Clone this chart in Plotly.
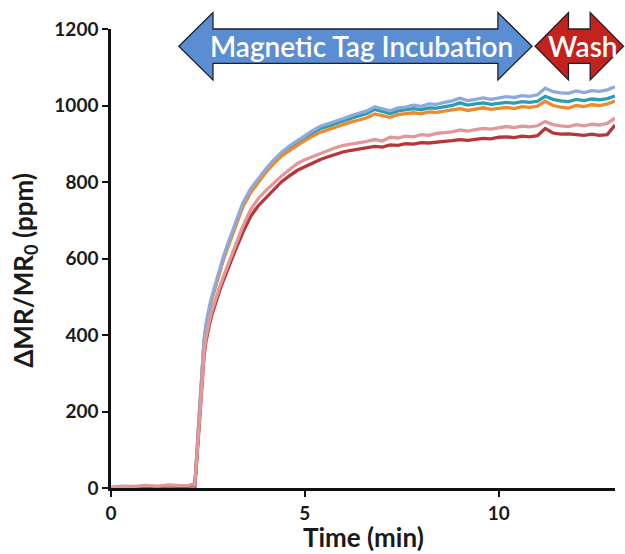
import plotly.graph_objects as go

# Sampling times (min)
time_min = [
    0.0, 0.3, 0.6, 0.9, 1.2, 1.5, 1.8, 2.0, 2.1, 2.16,
    2.2, 2.25, 2.3, 2.35, 2.4, 2.45, 2.5, 2.55, 2.6, 2.7, 2.8, 2.9,
    3.0, 3.2, 3.4, 3.6, 3.8, 4.0, 4.2, 4.4, 4.6, 4.8,
    5.0, 5.2, 5.4, 5.6, 5.8, 6.0, 6.2, 6.4, 6.6, 6.8,
    7.0, 7.2, 7.4, 7.6, 7.8, 8.0, 8.2, 8.4, 8.6, 8.8,
    9.0, 9.2, 9.4, 9.6, 9.8, 10.0, 10.2, 10.4, 10.6, 10.8,
    11.0, 11.2, 11.4, 11.6, 11.8, 12.0, 12.2, 12.4, 12.6, 12.8,
    13.0,
]

# dMR/MR0 signal (ppm) for each sensor
sensor_blue = [
    0, -2, 1, 0, -1, 1, 0, 2, 1, 3,
    70, 145, 235, 320, 388, 428, 457, 480, 500, 536, 572, 605,
    635, 690, 745, 782, 810, 835, 858, 878, 894, 908,
    921, 934, 946, 952, 960, 966, 974, 979, 986, 997,
    991, 986, 994, 996, 1001, 998, 1004, 1003, 1008, 1012,
    1019, 1013, 1016, 1020, 1016, 1019, 1023, 1021, 1026, 1024,
    1028, 1045, 1036, 1033, 1032, 1038, 1034, 1039, 1037, 1041,
    1049,
]
sensor_teal = [
    0, -1, 0, 1, 0, -1, 1, 1, 2, 2,
    65, 140, 230, 315, 383, 423, 452, 475, 495, 531, 566, 600,
    628, 684, 738, 776, 804, 830, 853, 874, 890, 903,
    916, 929, 940, 946, 954, 960, 967, 972, 979, 990,
    984, 979, 986, 988, 992, 989, 994, 993, 997, 1000,
    1007, 1001, 1004, 1007, 1003, 1006, 1008, 1006, 1010, 1008,
    1011, 1024, 1016, 1012, 1010, 1016, 1013, 1017, 1015, 1018,
    1025,
]
sensor_orange = [
    0, 1, -1, 0, 1, 0, -1, 1, 2, 2,
    65, 140, 228, 312, 380, 420, 450, 473, 493, 529, 563, 597,
    626, 682, 735, 772, 800, 826, 848, 868, 882, 896,
    908, 920, 930, 937, 944, 950, 957, 962, 968, 978,
    974, 969, 976, 978, 981, 978, 983, 982, 986, 988,
    992, 987, 990, 994, 990, 993, 995, 992, 997, 995,
    998, 1011, 1000, 996, 993, 1000, 997, 1002, 1000, 1004,
    1012,
]
sensor_darkred = [
    0, 3, 2, 5, 3, 6, 4, 5, 8, 6,
    55, 125, 205, 285, 345, 383, 410, 432, 452, 486, 515, 543,
    570, 620, 668, 710, 738, 760, 782, 801, 816, 830,
    840, 850, 859, 866, 873, 879, 883, 886, 889, 893,
    891, 897, 896, 900, 899, 903, 902, 905, 906, 908,
    911, 909, 912, 914, 913, 917, 918, 916, 920, 918,
    921, 940, 928, 925, 926, 924, 922, 925, 922, 924,
    949,
]
sensor_pink = [
    2, 5, 4, 7, 5, 8, 6, 7, 10, 8,
    60, 130, 212, 293, 355, 393, 420, 442, 462, 496, 525, 553,
    580, 632, 684, 727, 757, 778, 798, 816, 832, 848,
    858, 866, 876, 882, 890, 896, 899, 903, 906, 911,
    907, 917, 915, 920, 918, 924, 922, 927, 929, 931,
    936, 933, 937, 940, 938, 941, 945, 942, 946, 944,
    947, 958, 950, 947, 945, 950, 947, 951, 949, 953,
    967,
]

series = [
    ("Sensor 2", sensor_teal, "#2b9db3"),
    ("Sensor 3", sensor_orange, "#ee8a2c"),
    ("Sensor 1", sensor_blue, "#8eaadd"),
    ("Sensor 5", sensor_darkred, "#b8363a"),
    ("Sensor 4", sensor_pink, "#e09898"),
]

X_MAX = 13.0
Y_MAX = 1200.0
FONT = "Lato"

fig = go.Figure()
for name, vals, color in series:
    fig.add_trace(go.Scatter(
        x=time_min, y=vals, mode="lines", name=name,
        line=dict(color=color, width=3.3),
    ))


def to_paper(t, v):
    return t / X_MAX, v / Y_MAX


def double_arrow(t0, t1, head_len, v_mid, body_half, head_half):
    pts = [
        (t0, v_mid),
        (t0 + head_len, v_mid + head_half),
        (t0 + head_len, v_mid + body_half),
        (t1 - head_len, v_mid + body_half),
        (t1 - head_len, v_mid + head_half),
        (t1, v_mid),
        (t1 - head_len, v_mid - head_half),
        (t1 - head_len, v_mid - body_half),
        (t0 + head_len, v_mid - body_half),
        (t0 + head_len, v_mid - head_half),
    ]
    p = [to_paper(t, v) for t, v in pts]
    return "M " + " L ".join(f"{x:.5f},{y:.5f}" for x, y in p) + " Z"


# Phase arrows above the curves: label, start, end, head length, label centre, fill
phases = [
    ("Magnetic Tag Incubation", 1.75, 10.86, 0.88, 6.47, "#5b8dd3"),
    ("Wash", 10.94, 13.22, 0.86, 12.17, "#c4221d"),
]
for label, t0, t1, head, t_text, fill in phases:
    fig.add_shape(
        type="path", xref="paper", yref="paper",
        path=double_arrow(t0, t1, head, 1155, 45, 88),
        fillcolor=fill, line=dict(color="#1f1f2a", width=1.3),
        layer="above",
    )
    xc, yc = to_paper(t_text, 1155)
    fig.add_annotation(
        x=xc, y=yc, xref="paper", yref="paper", text=label,
        showarrow=False, xanchor="center", yanchor="middle",
        font=dict(family=FONT, size=28, color="white", weight=600),
    )

# Axis titles
fig.add_annotation(
    x=-0.171, y=0.475, xref="paper", yref="paper",
    text="ΔMR/MR<sub>0</sub> (ppm)", textangle=-90, showarrow=False,
    xanchor="center", yanchor="middle",
    font=dict(family=FONT, size=26, color="#1a1a1a", weight="bold"),
)
fig.add_annotation(
    x=0.5, y=-0.106, xref="paper", yref="paper",
    text="Time (min)", showarrow=False,
    xanchor="center", yanchor="middle",
    font=dict(family=FONT, size=26, color="#1a1a1a", weight="bold"),
)

axis_common = dict(
    showgrid=False, zeroline=False, showline=True,
    linecolor="#111111", linewidth=2.5,
    ticks="outside", ticklen=6, tickwidth=2.2, tickcolor="#111111",
    tickfont=dict(family=FONT, size=19, color="#1a1a1a", weight="bold"),
)
fig.update_xaxes(range=[0, X_MAX], tickvals=[0, 5, 10], **axis_common)
fig.update_yaxes(range=[0, Y_MAX], tickvals=[0, 200, 400, 600, 800, 1000, 1200],
                 **axis_common)

fig.update_layout(
    width=625, height=554,
    margin=dict(l=111, r=10, t=29, b=66),
    paper_bgcolor="white", plot_bgcolor="white",
    showlegend=False,
)

fig.write_html("out.html")
